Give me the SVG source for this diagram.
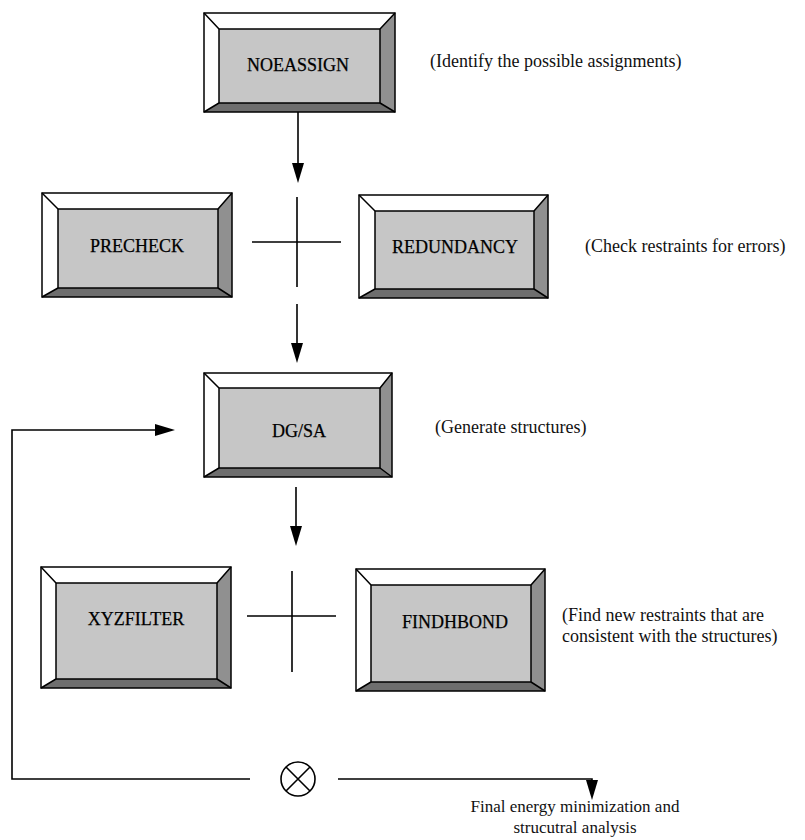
<svg xmlns="http://www.w3.org/2000/svg" width="805" height="840" viewBox="0 0 805 840">
<style>
  .edge{stroke:#000;stroke-width:1.6;fill:none}
  .face{fill:#c6c6c6}
  .light{fill:#ffffff}
  .right{fill:#909090}
  .bottom{fill:#6e6e6e}
  .ol{fill:none;stroke:#000;stroke-width:1.5}
  .lbl{font-size:18px;fill:#000;text-anchor:middle;stroke:#000;stroke-width:0.25}
  .note{font-size:18px;fill:#111}
  .fin{font-size:17px;fill:#111;text-anchor:middle}
</style>

<g id="noeassign" font-family="Liberation Serif, Tinos, DejaVu Serif, serif">
  <polygon class="light" points="204,13 395,13 380,29 219,29"/>
  <polygon class="light" points="204,13 219,29 219,103 204,112"/>
  <polygon class="right" points="395,13 395,112 380,103 380,29"/>
  <polygon class="bottom" points="204,112 395,112 380,103 219,103"/>
  <rect class="face" x="219" y="29" width="161" height="74"/>
  <rect class="ol" x="204" y="13" width="191" height="99"/>
  <rect class="ol" x="219" y="29" width="161" height="74"/>
  <path class="ol" d="M204,13 L219,29 M395,13 L380,29 M204,112 L219,103 M395,112 L380,103"/>
  <text class="lbl" x="298" y="71" font-size="17">NOEASSIGN</text>
</g>

<g id="precheck" font-family="Liberation Serif, Tinos, DejaVu Serif, serif">
  <polygon class="light" points="42,193 232,193 218,209 58,209"/>
  <polygon class="light" points="42,193 58,209 58,288 42,297"/>
  <polygon class="right" points="232,193 232,297 218,288 218,209"/>
  <polygon class="bottom" points="42,297 232,297 218,288 58,288"/>
  <rect class="face" x="58" y="209" width="160" height="79"/>
  <rect class="ol" x="42" y="193" width="190" height="104"/>
  <rect class="ol" x="58" y="209" width="160" height="79"/>
  <path class="ol" d="M42,193 L58,209 M232,193 L218,209 M42,297 L58,288 M232,297 L218,288"/>
  <text class="lbl" x="137" y="252">PRECHECK</text>
</g>

<g id="redundancy" font-family="Liberation Serif, Tinos, DejaVu Serif, serif">
  <polygon class="light" points="359,195 548,195 534,211 375,211"/>
  <polygon class="light" points="359,195 375,211 375,289 359,298"/>
  <polygon class="right" points="548,195 548,298 534,289 534,211"/>
  <polygon class="bottom" points="359,298 548,298 534,289 375,289"/>
  <rect class="face" x="375" y="211" width="159" height="78"/>
  <rect class="ol" x="359" y="195" width="189" height="103"/>
  <rect class="ol" x="375" y="211" width="159" height="78"/>
  <path class="ol" d="M359,195 L375,211 M548,195 L534,211 M359,298 L375,289 M548,298 L534,289"/>
  <text class="lbl" x="455" y="253">REDUNDANCY</text>
</g>

<g id="dgsa" font-family="Liberation Serif, Tinos, DejaVu Serif, serif">
  <polygon class="light" points="204,373 392,373 380,388 219,388"/>
  <polygon class="light" points="204,373 219,388 219,468 204,477"/>
  <polygon class="right" points="392,373 392,477 380,468 380,388"/>
  <polygon class="bottom" points="204,477 392,477 380,468 219,468"/>
  <rect class="face" x="219" y="388" width="161" height="80"/>
  <rect class="ol" x="204" y="373" width="188" height="104"/>
  <rect class="ol" x="219" y="388" width="161" height="80"/>
  <path class="ol" d="M204,373 L219,388 M392,373 L380,388 M204,477 L219,468 M392,477 L380,468"/>
  <text class="lbl" x="299" y="437">DG/SA</text>
</g>

<g id="xyzfilter" font-family="Liberation Serif, Tinos, DejaVu Serif, serif">
  <polygon class="light" points="41,567 231,567 217,583 56,583"/>
  <polygon class="light" points="41,567 56,583 56,679 41,688"/>
  <polygon class="right" points="231,567 231,688 217,679 217,583"/>
  <polygon class="bottom" points="41,688 231,688 217,679 56,679"/>
  <rect class="face" x="56" y="583" width="161" height="96"/>
  <rect class="ol" x="41" y="567" width="190" height="121"/>
  <rect class="ol" x="56" y="583" width="161" height="96"/>
  <path class="ol" d="M41,567 L56,583 M231,567 L217,583 M41,688 L56,679 M231,688 L217,679"/>
  <text class="lbl" x="136" y="625">XYZFILTER</text>
</g>

<g id="findhbond" font-family="Liberation Serif, Tinos, DejaVu Serif, serif">
  <polygon class="light" points="356,569 545,569 531,585 371,585"/>
  <polygon class="light" points="356,569 371,585 371,682 356,691"/>
  <polygon class="right" points="545,569 545,691 531,682 531,585"/>
  <polygon class="bottom" points="356,691 545,691 531,682 371,682"/>
  <rect class="face" x="371" y="585" width="160" height="97"/>
  <rect class="ol" x="356" y="569" width="189" height="122"/>
  <rect class="ol" x="371" y="585" width="160" height="97"/>
  <path class="ol" d="M356,569 L371,585 M545,569 L531,585 M356,691 L371,682 M545,691 L531,682"/>
  <text class="lbl" x="455" y="628">FINDHBOND</text>
</g>

<g id="combine">
  <circle cx="298" cy="779" r="17" class="edge" stroke-width="2"/>
  <path class="edge" stroke-width="2" d="M286,767 L310,791 M310,767 L286,791"/>
</g>

<g id="notes" font-family="Liberation Serif, Tinos, DejaVu Serif, serif">
  <text class="note" x="430" y="67">(Identify the possible assignments)</text>
  <text class="note" x="585" y="252">(Check restraints for errors)</text>
  <text class="note" x="435" y="433">(Generate structures)</text>
  <text class="note" x="562" y="621">(Find new restraints that are</text>
  <text class="note" x="562" y="642">consistent with the structures)</text>
  <text class="fin" x="575" y="812">Final energy minimization and</text>
  <text class="fin" x="575" y="833">strucutral analysis</text>
</g>

<g id="connectors">
  <path class="edge" d="M298,112 V165"/>
  <polygon points="292,163 304,163 298,183"/>
  <path class="edge" d="M297,197 V287 M252,242 H341"/>
  <path class="edge" d="M297,304 V345"/>
  <polygon points="291,343 303,343 297,363"/>
  <path class="edge" d="M296,487 V528"/>
  <polygon points="290,526 302,526 296,546"/>
  <path class="edge" d="M292,571 V672 M247,616 H336"/>
  <path class="edge" d="M250,779 H12 V430 H157"/>
  <polygon points="155,424 155,436 175,430"/>
  <path class="edge" d="M338,779 H592 V782"/>
  <polygon points="586,780 598,780 592,800"/>
</g>
</svg>
